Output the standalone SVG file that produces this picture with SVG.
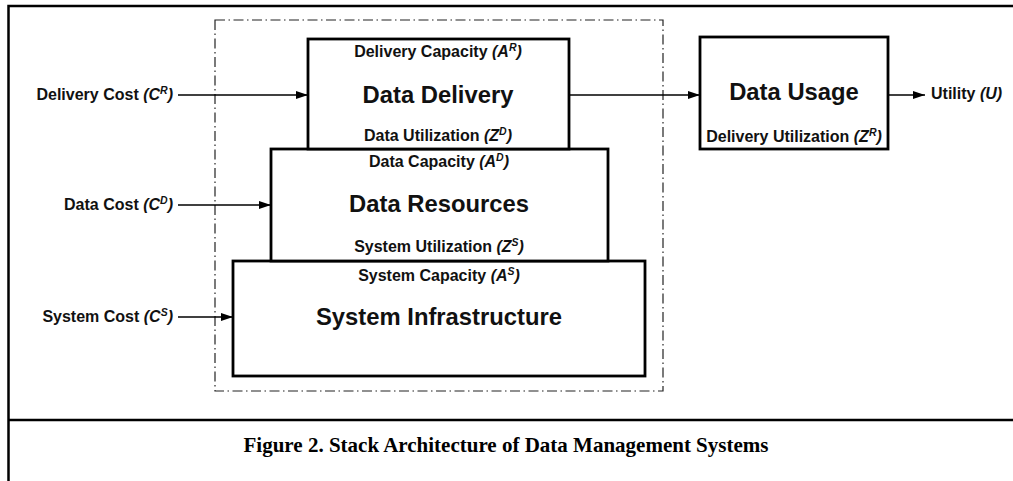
<svg xmlns="http://www.w3.org/2000/svg" width="1013" height="481" viewBox="0 0 1013 481">
<defs>
<style>
.frame{fill:none;stroke:#000;stroke-width:2.5}
.dashbox{fill:none;stroke:#222;stroke-width:1.2;stroke-dasharray:10,3.5,1.5,3.5}
.box{fill:#fff;stroke:#000;stroke-width:2.8}
.conn{fill:none;stroke:#000;stroke-width:1.3}
.lbl{font-family:"Liberation Sans",Arial,sans-serif;font-weight:bold;font-size:16px;fill:#111}
.big{font-family:"Liberation Sans",Arial,sans-serif;font-weight:bold;font-size:23.8px;fill:#111}
.it{font-style:italic}
.cap{font-family:"Liberation Serif","Times New Roman",serif;font-weight:bold;font-size:21px;fill:#000}
</style>
<marker id="ah" viewBox="0 0 12 8" refX="12" refY="4" markerWidth="12" markerHeight="8" markerUnits="userSpaceOnUse" orient="auto">
<path d="M0,0 L12,4 L0,8 Z" fill="#000"/>
</marker>
</defs>
<rect width="1013" height="481" fill="#fff"/>
<g id="frame">
<path class="frame" d="M8.5,481 V6 H1013"/>
<path class="frame" d="M8.5,420 H1013"/>
</g>
<g id="boundary">
<rect class="dashbox" x="215" y="20" width="448" height="371"/>
</g>
<g id="connectors">
<path class="conn" d="M178,95 H308" marker-end="url(#ah)"/>
<path class="conn" d="M569,95 H700" marker-end="url(#ah)"/>
<path class="conn" d="M888,95 H925" marker-end="url(#ah)"/>
<path class="conn" d="M178,205 H271" marker-end="url(#ah)"/>
<path class="conn" d="M178,317 H233" marker-end="url(#ah)"/>
</g>
<g id="system-infrastructure">
<rect class="box" x="233" y="261" width="412" height="115"/>
<text class="lbl" x="439" y="281" text-anchor="middle">System Capacity <tspan class="it">(A<tspan font-size="10.5" dy="-6.5">S</tspan><tspan dy="6.5">)</tspan></tspan></text>
<text class="big" x="439" y="325" text-anchor="middle">System Infrastructure</text>
</g>
<g id="data-resources">
<rect class="box" x="271" y="149" width="337" height="112"/>
<text class="lbl" x="439" y="167" text-anchor="middle">Data Capacity <tspan class="it">(A<tspan font-size="10.5" dy="-6.5">D</tspan><tspan dy="6.5">)</tspan></tspan></text>
<text class="big" x="439" y="212" text-anchor="middle">Data Resources</text>
<text class="lbl" x="439" y="252" text-anchor="middle">System Utilization <tspan class="it">(Z<tspan font-size="10.5" dy="-6.5">S</tspan><tspan dy="6.5">)</tspan></tspan></text>
</g>
<g id="data-delivery">
<rect class="box" x="308" y="39" width="261" height="110"/>
<text class="lbl" x="438" y="57" text-anchor="middle">Delivery Capacity <tspan class="it">(A<tspan font-size="10.5" dy="-6.5">R</tspan><tspan dy="6.5">)</tspan></tspan></text>
<text class="big" x="438" y="103" text-anchor="middle">Data Delivery</text>
<text class="lbl" x="438" y="141" text-anchor="middle">Data Utilization <tspan class="it">(Z<tspan font-size="10.5" dy="-6.5">D</tspan><tspan dy="6.5">)</tspan></tspan></text>
</g>
<g id="data-usage">
<rect class="box" x="700" y="37" width="188" height="112"/>
<text class="big" x="794" y="100" text-anchor="middle">Data Usage</text>
<text class="lbl" x="794" y="142" text-anchor="middle">Delivery Utilization <tspan class="it">(Z<tspan font-size="10.5" dy="-6.5">R</tspan><tspan dy="6.5">)</tspan></tspan></text>
</g>
<g id="inputs">
<text class="lbl" x="173" y="100" text-anchor="end">Delivery Cost <tspan class="it">(C<tspan font-size="10.5" dy="-6.5">R</tspan><tspan dy="6.5">)</tspan></tspan></text>
<text class="lbl" x="173" y="210" text-anchor="end">Data Cost <tspan class="it">(C<tspan font-size="10.5" dy="-6.5">D</tspan><tspan dy="6.5">)</tspan></tspan></text>
<text class="lbl" x="173" y="322" text-anchor="end">System Cost <tspan class="it">(C<tspan font-size="10.5" dy="-6.5">S</tspan><tspan dy="6.5">)</tspan></tspan></text>
</g>
<g id="output">
<text class="lbl" x="931" y="99">Utility <tspan class="it">(U)</tspan></text>
</g>
<text class="cap" x="506" y="452" text-anchor="middle">Figure 2. Stack Architecture of Data Management Systems</text>
</svg>
